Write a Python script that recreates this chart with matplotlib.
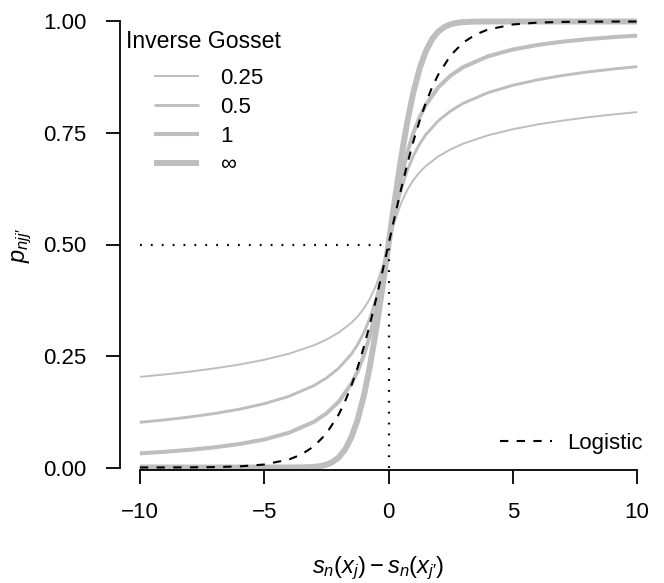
import matplotlib
matplotlib.use("Agg")
import matplotlib.pyplot as plt
from matplotlib.lines import Line2D

plt.rcParams['font.family'] = ['Liberation Sans', 'DejaVu Sans']
plt.rcParams['mathtext.fontset'] = 'custom'
plt.rcParams['mathtext.it'] = 'Liberation Sans:italic'
plt.rcParams['mathtext.rm'] = 'Liberation Sans'
plt.rcParams['mathtext.sf'] = 'Liberation Sans'

# ---- data ----
x_t = [-10, -9, -8, -7, -6, -5, -4, -3, -2.5, -2, -1.5, -1.25, -1, -0.75, -0.5, -0.25, -0.125,
       0, 0.125, 0.25, 0.5, 0.75, 1, 1.25, 1.5, 2, 2.5, 3, 4, 5, 6, 7, 8, 9, 10]
p_025 = [0.2032, 0.2086, 0.2148, 0.2223, 0.2308, 0.2415, 0.2552, 0.2740, 0.2866, 0.3026, 0.3241,
         0.3382, 0.3556, 0.3781, 0.4081, 0.4488, 0.4736,
         0.5, 0.5264, 0.5512, 0.5919, 0.6219, 0.6444, 0.6618, 0.6759, 0.6974, 0.7134, 0.7260,
         0.7448, 0.7585, 0.7692, 0.7777, 0.7852, 0.7914, 0.7968]
p_05 = [0.1013, 0.1068, 0.1132, 0.1210, 0.1307, 0.1430, 0.1596, 0.1836, 0.2005, 0.2228, 0.2539,
        0.2749, 0.3011, 0.3348, 0.3787, 0.4346, 0.4665,
        0.5, 0.5335, 0.5654, 0.6213, 0.6652, 0.6989, 0.7251, 0.7461, 0.7772, 0.7995, 0.8164,
        0.8404, 0.8570, 0.8693, 0.8790, 0.8868, 0.8932, 0.8987]
p_1 = [0.0317, 0.0352, 0.0396, 0.0452, 0.0526, 0.0628, 0.0780, 0.1024, 0.1211, 0.1476, 0.1872,
       0.2148, 0.2500, 0.2952, 0.3524, 0.4220, 0.4604,
       0.5, 0.5396, 0.5780, 0.6476, 0.7048, 0.7500, 0.7852, 0.8128, 0.8524, 0.8789, 0.8976,
       0.9220, 0.9372, 0.9474, 0.9548, 0.9604, 0.9648, 0.9683]

x_n = [-10, -5, -4, -3.5, -3, -2.75, -2.5, -2.25, -2, -1.75, -1.5, -1.25, -1, -0.75, -0.5, -0.25,
       0, 0.25, 0.5, 0.75, 1, 1.25, 1.5, 1.75, 2, 2.25, 2.5, 2.75, 3, 3.5, 4, 5, 10]
p_inf = [0.0, 0.0, 0.00003, 0.00023, 0.00135, 0.00298, 0.00621, 0.01222, 0.02275, 0.04006,
         0.06681, 0.10565, 0.15866, 0.22663, 0.30854, 0.40129,
         0.5, 0.59871, 0.69146, 0.77337, 0.84134, 0.89435, 0.93319, 0.95994, 0.97725, 0.98778,
         0.99379, 0.99702, 0.99865, 0.99977, 0.99997, 1.0, 1.0]

x_l = [-10, -9, -8, -7, -6, -5, -4, -3.5, -3, -2.5, -2, -1.75, -1.5, -1.25, -1, -0.75, -0.5, -0.25,
       0, 0.25, 0.5, 0.75, 1, 1.25, 1.5, 1.75, 2, 2.5, 3, 3.5, 4, 5, 6, 7, 8, 9, 10]
p_logis = [0.00005, 0.00012, 0.00034, 0.00091, 0.00247, 0.00669, 0.01799, 0.02931, 0.04743,
           0.07586, 0.11920, 0.14805, 0.18243, 0.22270, 0.26894, 0.32082, 0.37754, 0.43782,
           0.5, 0.56218, 0.62246, 0.67918, 0.73106, 0.77730, 0.81757, 0.85195, 0.88080,
           0.92414, 0.95257, 0.97069, 0.98201, 0.99331, 0.99753, 0.99909, 0.99966, 0.99988,
           0.99995]

gosset_labels = ['0.25', '0.5', '1', '∞']
x_ticks = [-10, -5, 0, 5, 10]
y_ticks = [0.00, 0.25, 0.50, 0.75, 1.00]
y_ticklabels = ['0.00', '0.25', '0.50', '0.75', '1.00']
ref_level = 0.5
ref_x = 0

# ---- figure ----
W, H = 664, 583
fig = plt.figure(figsize=(W / 100, H / 100), dpi=100)
ax = fig.add_axes([120 / W, 113 / H, 537 / W, 451 / H])
ax.set_xlim(-10.8, 10.8)
ax.set_ylim(-0.0056, 1.0056)

gray = '#BEBEBE'
widths = [1.4, 2.1, 2.9, 4.3]
series = [(x_t, p_025), (x_t, p_05), (x_t, p_1), (x_n, p_inf)]
handles = []
for (xs, ys), lw, lab in zip(series, widths, gosset_labels):
    h, = ax.plot(xs, ys, color=gray, lw=lw, solid_capstyle='butt', clip_on=False, label=lab)
    handles.append(h)

hl, = ax.plot(x_l, p_logis, color='black', lw=1.5, dashes=(4, 4), clip_on=False, label='Logistic')

ax.plot([x_ticks[0], ref_x], [ref_level, ref_level], color='black', lw=1.6,
        dashes=(0.8, 4.1), dash_capstyle='butt')
ax.plot([ref_x, ref_x], [0, ref_level], color='black', lw=1.6,
        dashes=(0.8, 4.1), dash_capstyle='butt')

for s in ['top', 'right']:
    ax.spines[s].set_visible(False)
ax.spines['left'].set_bounds(0, 1)
ax.spines['bottom'].set_bounds(-10, 10)
for s in ['left', 'bottom']:
    ax.spines[s].set_linewidth(1.3)

ax.set_xticks(x_ticks)
ax.set_xticklabels(['−10', '−5', '0', '5', '10'])
ax.set_yticks(y_ticks)
ax.set_yticklabels(y_ticklabels)
ax.tick_params(axis='both', direction='out', length=10, width=1.3, labelsize=16)
ax.tick_params(axis='x', pad=13)
ax.tick_params(axis='y', pad=14)

fig.text(378 / W, 1 - 568 / H, r"$s_n(x_j) - s_n(x_{j\prime})$", fontsize=17, ha='center', va='center')
fig.text(22 / W, 1 - 245 / H, r"$p_{njj\prime}$", fontsize=17, ha='center', va='center', rotation=90)

fig.text(126 / W, 1 - 41 / H, 'Inverse Gosset', fontsize=16.6, ha='left', va='center')
leg1 = ax.legend(handles, gosset_labels, loc='upper left', bbox_to_anchor=(154 / W, 1 - 68 / H),
                 bbox_transform=fig.transFigure, frameon=False, fontsize=16, borderpad=0,
                 borderaxespad=0, handlelength=2.03, handletextpad=0.95, labelspacing=0.35)
ax.add_artist(leg1)
ax.legend([hl], ['Logistic'], loc='center left', bbox_to_anchor=(500 / W, 1 - 443 / H),
          bbox_transform=fig.transFigure, frameon=False, fontsize=16, borderpad=0,
          borderaxespad=0, handlelength=2.34, handletextpad=0.68)

fig.savefig('out.png', dpi=100)
